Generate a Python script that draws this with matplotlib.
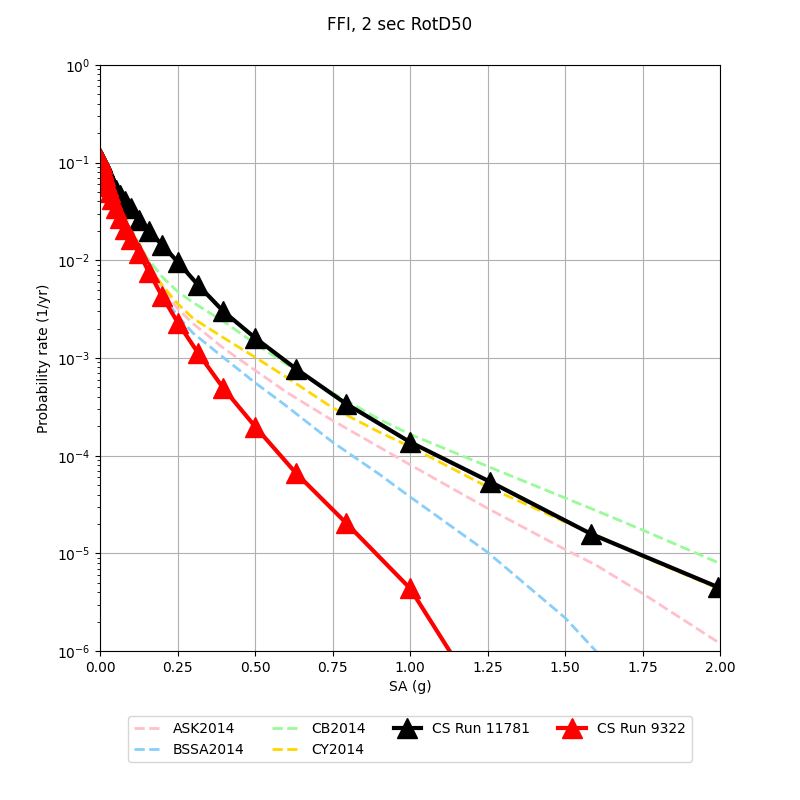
#!/usr/bin/env python3

import numpy as np
import matplotlib
matplotlib.use("Agg")
import matplotlib.pyplot as plt

# GMPE hazard curves
gmpe_x = [0.0001, 0.01, 0.02, 0.05, 0.1, 0.15, 0.2, 0.25, 0.3, 0.4,
          0.5, 0.6, 0.75, 0.9, 1.0, 1.25, 1.5, 1.6, 1.75, 2.0]
ask2014 = [0.11, 0.088, 0.072, 0.042, 0.018, 0.0088, 0.0053, 0.0032, 0.00225, 0.00125,
           0.00075, 0.00045, 0.00023, 0.000123, 8.1e-5, 2.9e-5, 1.1e-5, 7.6e-6, 3.9e-6, 1.2e-6]
bssa2014 = [0.11, 0.087, 0.071, 0.041, 0.0175, 0.0082, 0.0045, 0.0027, 0.0018, 0.001,
            0.00056, 0.000325, 0.000138, 6.5e-5, 3.8e-5, 1.03e-5, 2.2e-6, 1.0e-6, 2.5e-7, 2e-8]
cb2014 = [0.11, 0.09, 0.076, 0.046, 0.021, 0.0108, 0.0068, 0.0048, 0.0037, 0.00235,
          0.00141, 0.00087, 0.00044, 0.000237, 0.000166, 7.8e-5, 3.7e-5, 2.75e-5, 1.74e-5, 7.9e-6]
cy2014 = [0.11, 0.088, 0.073, 0.043, 0.019, 0.0095, 0.0056, 0.0036, 0.00255, 0.0016,
          0.00102, 0.00064, 0.00031, 0.000175, 0.000124, 4.8e-5, 2.1e-5, 1.55e-5, 9.3e-6, 4.3e-6]

# CyberShake runs
cs_x = [0.0001, 0.001, 0.002, 0.00316, 0.005, 0.00794, 0.01, 0.0126, 0.0158, 0.02,
        0.0251, 0.0316, 0.0398, 0.0501, 0.0631, 0.0794, 0.1, 0.126, 0.158, 0.2,
        0.251, 0.316, 0.398, 0.501, 0.631, 0.794, 1.0, 1.259, 1.585, 1.995]
run_11781 = [0.112, 0.108, 0.106, 0.104, 0.101, 0.096, 0.093, 0.089, 0.084, 0.079,
             0.073, 0.066, 0.059, 0.052, 0.046, 0.040, 0.034, 0.026, 0.020, 0.0144,
             0.0096, 0.0056, 0.0030, 0.0016, 0.00078, 0.00034, 0.000138, 5.4e-5, 1.58e-5, 4.5e-6]
run_9322 = [0.112, 0.107, 0.104, 0.101, 0.097, 0.090, 0.085, 0.079, 0.072, 0.065,
            0.058, 0.050, 0.042, 0.034, 0.027, 0.021, 0.0165, 0.0118, 0.0076, 0.0043,
            0.0023, 0.00113, 0.00049, 0.000198, 6.7e-5, 2.05e-5, 4.4e-6, 2.2e-7, 2e-9, 1e-11]

fig = plt.figure(figsize=(8, 8), dpi=100)
ax = fig.add_axes([0.125, 0.186, 0.775, 0.733])

ax.plot(gmpe_x, ask2014, "--", color="pink", lw=2, label="ASK2014")
ax.plot(gmpe_x, bssa2014, "--", color="lightskyblue", lw=2, label="BSSA2014")
ax.plot(gmpe_x, cb2014, "--", color="palegreen", lw=2, label="CB2014")
ax.plot(gmpe_x, cy2014, "--", color="gold", lw=2, label="CY2014")
ax.plot(cs_x, run_11781, "-^", color="k", lw=3, ms=15, label="CS Run 11781")
ax.plot(cs_x, run_9322, "-^", color="red", lw=3, ms=15, label="CS Run 9322")

ax.set_yscale("log")
ax.set_xlim(0, 2)
ax.set_ylim(1e-6, 1)
ax.grid(True)
ax.set_xlabel("SA (g)")
ax.set_ylabel("Probability rate (1/yr)")
fig.suptitle("FFI, 2 sec RotD50")

ax.legend(loc="upper center", bbox_to_anchor=(0.5, -0.099), ncol=4)

fig.savefig("out.png")
plt.close(fig)
